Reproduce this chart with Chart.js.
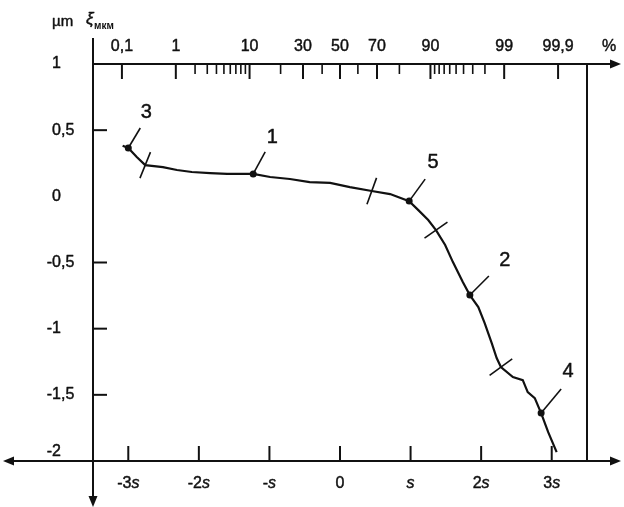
<!DOCTYPE html>
<html>
<head>
<meta charset="utf-8">
<script src="https://cdn.jsdelivr.net/npm/chart.js@4.4.1/dist/chart.umd.min.js"></script>
<style>
  html, body { margin: 0; padding: 0; background: #fff; }
</style>
</head>
<body>
<canvas id="myChart" width="624" height="507"></canvas>
<script>
// curve: x in units of s, y in µm
const curveX = [-3.08, -3.00, -2.88, -2.76, -2.51, -2.31, -2.10, -1.84, -1.60, -1.23,
  -0.99, -0.71, -0.43, -0.14, 0.14, 0.45, 0.71, 0.98, 1.11, 1.25,
  1.36, 1.49, 1.60, 1.74, 1.84, 1.96, 2.05, 2.15, 2.22, 2.28,
  2.45, 2.59, 2.66, 2.76, 2.85, 2.95, 3.07];
const curveY = [0.382, 0.365, 0.297, 0.236, 0.221, 0.199, 0.184, 0.176, 0.169, 0.169,
  0.146, 0.131, 0.108, 0.101, 0.070, 0.040, 0.017, -0.036, -0.104, -0.179,
  -0.255, -0.368, -0.497, -0.648, -0.746, -0.837, -0.958, -1.109, -1.222, -1.290,
  -1.366, -1.389, -1.480, -1.525, -1.638, -1.782, -1.933];

// numbered points
const markLabels = ["3", "1", "5", "2", "4"];
const markX = [-3.00, -1.23, 0.98, 1.84, 2.85];
const markY = [0.365, 0.169, -0.036, -0.746, -1.638];

// cross strokes on the curve
const crossX = [-2.76, 0.45, 1.36, 2.28];
const crossY = [0.236, 0.040, -0.255, -1.290];

// bottom axis (s)
const sigmaTicks = [-3, -2, -1, 0, 1, 2, 3];
const sigmaLabels = ["-3s", "-2s", "-s", "0", "s", "2s", "3s"];

// left axis (µm)
const yTicks = [1, 0.5, 0, -0.5, -1, -1.5, -2];
const yLabels = ["1", "0,5", "0", "-0,5", "-1", "-1,5", "-2"];
const yMarks = [0.5, -0.5, -1, -1.5];

// top probability axis (%)
const probTicks = [0.1, 1, 10, 30, 50, 70, 90, 99, 99.9];
const probLabels = ["0,1", "1", "10", "30", "50", "70", "90", "99", "99,9"];
const probMinor = [2, 3, 4, 5, 6, 7, 8, 9, 20, 40, 60, 80, 91, 92, 93, 94, 95, 96, 97, 98];

const FONT = "'Liberation Sans', Arial, sans-serif";
const INK = "#111";
const crossAngles = [-68, -70, -35, -36];
const leaderEnd = [[12, -20], [12, -22], [16, -22], [19, -19], [20, -24]];
const labelPos = [[18, -36], [19, -36], [24, -39], [35, -35], [27, -42]];

// inverse normal cdf (Acklam) -> position on the s scale
function probit(p) {
  const a = [-3.969683028665376e+01, 2.209460984245205e+02, -2.759285104469687e+02, 1.383577518672690e+02, -3.066479806614716e+01, 2.506628277459239e+00];
  const b = [-5.447609879822406e+01, 1.615858368580409e+02, -1.556989798598866e+02, 6.680131188771972e+01, -1.328068155288572e+01];
  const c = [-7.784894002430293e-03, -3.223964580411365e-01, -2.400758277161838e+00, -2.549732539343734e+00, 4.374664141464968e+00, 2.938163982698783e+00];
  const d = [7.784695709041462e-03, 3.224671290700398e-01, 2.445134137142996e+00, 3.754408661907416e+00];
  const pl = 0.02425;
  let q, r;
  if (p < pl) {
    q = Math.sqrt(-2 * Math.log(p));
    return (((((c[0] * q + c[1]) * q + c[2]) * q + c[3]) * q + c[4]) * q + c[5]) / ((((d[0] * q + d[1]) * q + d[2]) * q + d[3]) * q + 1);
  }
  if (p > 1 - pl) {
    q = Math.sqrt(-2 * Math.log(1 - p));
    return -(((((c[0] * q + c[1]) * q + c[2]) * q + c[3]) * q + c[4]) * q + c[5]) / ((((d[0] * q + d[1]) * q + d[2]) * q + d[3]) * q + 1);
  }
  q = p - 0.5;
  r = q * q;
  return (((((a[0] * r + a[1]) * r + a[2]) * r + a[3]) * r + a[4]) * r + a[5]) * q / (((((b[0] * r + b[1]) * r + b[2]) * r + b[3]) * r + b[4]) * r + 1);
}

function line(ctx, x1, y1, x2, y2) {
  ctx.beginPath();
  ctx.moveTo(x1, y1);
  ctx.lineTo(x2, y2);
  ctx.stroke();
}

function arrow(ctx, x, y, dx, dy) {
  // tip at (x,y), pointing along (dx,dy)
  const len = 11, w = 4.5;
  ctx.beginPath();
  ctx.moveTo(x, y);
  ctx.lineTo(x - dx * len - dy * w, y - dy * len + dx * w);
  ctx.lineTo(x - dx * len + dy * w, y - dy * len - dx * w);
  ctx.closePath();
  ctx.fill();
}

// text a bit heavier, like the scanned original
function text(ctx, s, x, y) {
  ctx.fillText(s, x, y);
  ctx.strokeText(s, x, y);
}

const axesPlugin = {
  id: "axesPlugin",
  afterDraw(chart) {
    const ctx = chart.ctx;
    const xs = chart.scales.x;
    const ys = chart.scales.y;
    const L = xs.getPixelForValue(-3.5);
    const R = xs.getPixelForValue(3.5);
    const T = ys.getPixelForValue(1);
    const B = ys.getPixelForValue(-2);

    ctx.save();
    ctx.strokeStyle = INK;
    ctx.fillStyle = INK;
    ctx.lineWidth = 2;

    // frame + arrows
    line(ctx, L, 38, L, 497);
    arrow(ctx, L, 507, 0, 1);
    line(ctx, L, T, 612, T);
    arrow(ctx, 621, T, 1, 0);
    line(ctx, 12, B, 612, B);
    arrow(ctx, 3, B, -1, 0);
    arrow(ctx, 621, B, 1, 0);
    line(ctx, R, T, R, B);

    // inner tick marks
    ctx.lineWidth = 2;
    sigmaTicks.forEach(v => {
      const px = xs.getPixelForValue(v);
      line(ctx, px, B, px, B - 15);
    });
    yMarks.forEach(v => {
      const py = ys.getPixelForValue(v);
      line(ctx, L, py, L + 14, py);
    });
    probTicks.forEach(p => {
      const px = xs.getPixelForValue(probit(p / 100));
      line(ctx, px, T, px, T + 15);
    });
    ctx.lineWidth = 1.6;
    probMinor.forEach(p => {
      const px = xs.getPixelForValue(probit(p / 100));
      line(ctx, px, T, px, T + 10);
    });

    ctx.lineWidth = 0.45;
    ctx.lineJoin = "round";

    // top labels
    ctx.textBaseline = "middle";
    ctx.textAlign = "center";
    ctx.font = "16px " + FONT;
    probTicks.forEach((p, i) => {
      text(ctx, probLabels[i], xs.getPixelForValue(probit(p / 100)), 47);
    });
    text(ctx, "%", 609, 47);

    // bottom labels, s in italic
    sigmaTicks.forEach((v, i) => {
      const px = xs.getPixelForValue(v);
      const lab = sigmaLabels[i];
      if (lab.endsWith("s")) {
        const pre = lab.slice(0, -1);
        ctx.font = "16px " + FONT;
        const w1 = ctx.measureText(pre).width;
        ctx.font = "italic 16px " + FONT;
        const w2 = ctx.measureText("s").width;
        const x0 = px - (w1 + w2) / 2;
        ctx.textAlign = "left";
        ctx.font = "16px " + FONT;
        text(ctx, pre, x0, 484);
        ctx.font = "italic 16px " + FONT;
        text(ctx, "s", x0 + w1, 484);
      } else {
        ctx.textAlign = "center";
        ctx.font = "16px " + FONT;
        text(ctx, lab, px, 484);
      }
    });

    // left labels, aligned on the comma
    ctx.font = "16px " + FONT;
    yTicks.forEach((v, i) => {
      let py = ys.getPixelForValue(v);
      if (v === -2) py -= 9;
      const parts = yLabels[i].split(",");
      ctx.textAlign = "right";
      text(ctx, parts[0], 61, py);
      if (parts.length > 1) {
        ctx.textAlign = "left";
        text(ctx, "," + parts[1], 61, py);
      }
    });

    // unit captions
    ctx.textAlign = "left";
    ctx.font = "15px " + FONT;
    text(ctx, "\u00b5m", 52, 22);
    ctx.font = "italic 17px " + FONT;
    text(ctx, "\u03be", 86, 19);
    ctx.font = "bold 10px " + FONT;
    ctx.fillText("\u043c\u043a\u043c", 94, 26);

    // numbered points: leader + number
    ctx.font = "20px " + FONT;
    ctx.textAlign = "center";
    markLabels.forEach((lab, i) => {
      const px = xs.getPixelForValue(markX[i]);
      const py = ys.getPixelForValue(markY[i]);
      ctx.lineWidth = 1.6;
      line(ctx, px, py, px + leaderEnd[i][0], py + leaderEnd[i][1]);
      ctx.lineWidth = 0.45;
      text(ctx, lab, px + labelPos[i][0], py + labelPos[i][1]);
    });
    ctx.restore();
  }
};

const ctx = document.getElementById("myChart");

new Chart(ctx, {
  type: "scatter",
  data: {
    datasets: [
      {
        data: curveX.map((x, i) => ({ x: x, y: curveY[i] })),
        showLine: true,
        borderColor: INK,
        borderWidth: 2.2,
        pointRadius: 0,
        tension: 0
      },
      {
        data: markX.map((x, i) => ({ x: x, y: markY[i] })),
        pointRadius: 3.5,
        pointBackgroundColor: INK,
        pointBorderWidth: 0
      },
      {
        data: crossX.map((x, i) => ({ x: x, y: crossY[i] })),
        pointStyle: "line",
        pointRadius: 14,
        rotation: crossAngles,
        borderColor: INK,
        borderWidth: 1.6
      }
    ]
  },
  options: {
    responsive: false,
    animation: false,
    layout: { padding: { top: 64, right: 37, left: 0, bottom: 0 } },
    plugins: { legend: { display: false }, tooltip: { enabled: false } },
    scales: {
      x: {
        type: "linear",
        min: -3.5,
        max: 3.5,
        grid: { display: false },
        border: { display: false },
        ticks: { display: false },
        afterFit: s => { s.height = 46; }
      },
      y: {
        min: -2,
        max: 1,
        grid: { display: false },
        border: { display: false },
        ticks: { display: false },
        afterFit: s => { s.width = 93; }
      }
    }
  },
  plugins: [axesPlugin]
});
</script>
</body>
</html>
